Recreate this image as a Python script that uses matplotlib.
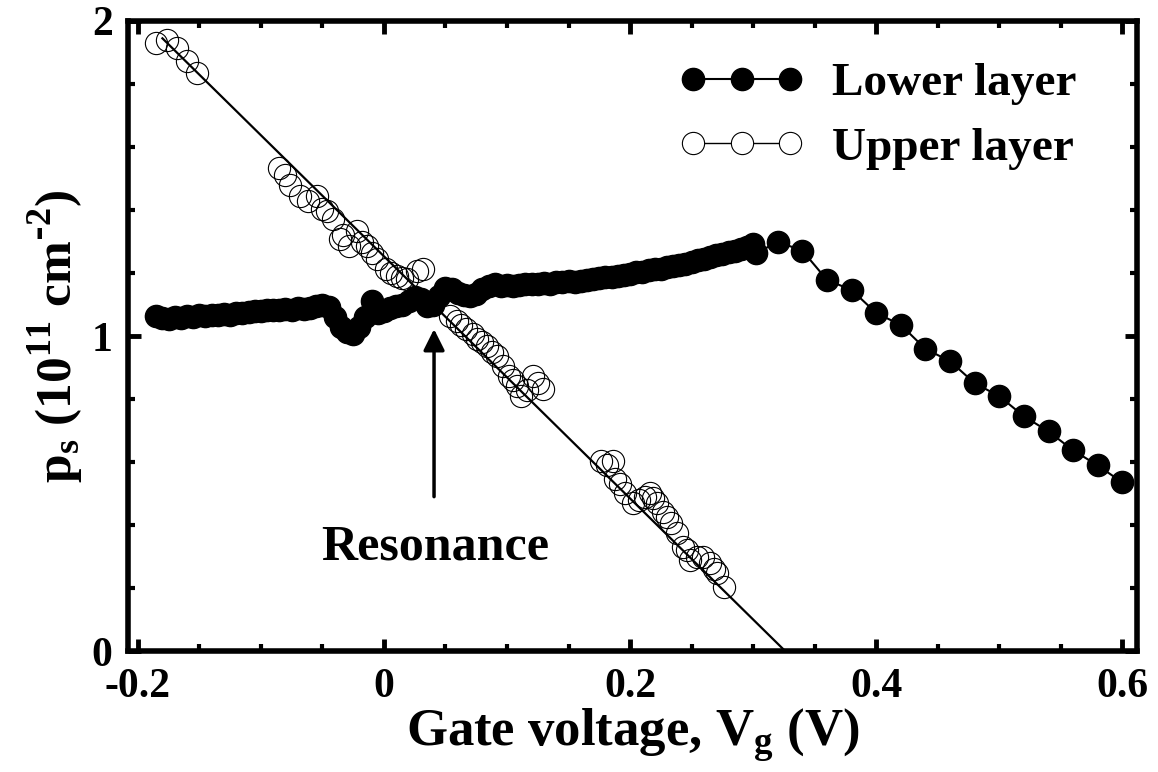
import numpy as np
import matplotlib
matplotlib.use('Agg')
import matplotlib.pyplot as plt
from matplotlib.lines import Line2D
from matplotlib.ticker import MultipleLocator, FuncFormatter

# lower layer, dense sweep (V, 1e11 cm^-2)
lower_x = [-0.185, -0.180, -0.175, -0.170, -0.165, -0.160, -0.155, -0.150, -0.145, -0.140,
           -0.135, -0.130, -0.125, -0.120, -0.115, -0.110, -0.105, -0.100, -0.095, -0.090,
           -0.085, -0.080, -0.075, -0.070, -0.065, -0.060, -0.055, -0.050, -0.045, -0.040,
           -0.035, -0.030, -0.025, -0.020, -0.015, -0.010, -0.005, 0.000, 0.005, 0.010,
           0.015, 0.020, 0.025, 0.030, 0.035, 0.040, 0.045, 0.050, 0.055, 0.060,
           0.065, 0.070, 0.075, 0.080, 0.085, 0.090, 0.095, 0.100, 0.105, 0.110,
           0.115, 0.120, 0.125, 0.130, 0.135, 0.140, 0.145, 0.150, 0.155, 0.160,
           0.165, 0.170, 0.175, 0.180, 0.185, 0.190, 0.195, 0.200, 0.205, 0.210,
           0.215, 0.220, 0.225, 0.230, 0.235, 0.240, 0.245, 0.250, 0.255, 0.260,
           0.265, 0.270, 0.275, 0.280, 0.285, 0.290, 0.295, 0.300, 0.302,
           # sparse tail
           0.32, 0.34, 0.36, 0.38, 0.40, 0.42, 0.44, 0.46, 0.48, 0.50,
           0.52, 0.54, 0.56, 0.58, 0.60]
lower_y = [1.064, 1.058, 1.055, 1.060, 1.058, 1.062, 1.060, 1.066, 1.064, 1.068,
           1.066, 1.070, 1.068, 1.072, 1.074, 1.076, 1.078, 1.080, 1.082, 1.084,
           1.082, 1.086, 1.084, 1.088, 1.086, 1.090, 1.094, 1.098, 1.092, 1.060,
           1.030, 1.012, 1.005, 1.030, 1.060, 1.112, 1.072, 1.080, 1.088, 1.094,
           1.100, 1.112, 1.124, 1.118, 1.094, 1.100, 1.128, 1.152, 1.148, 1.138,
           1.130, 1.128, 1.134, 1.150, 1.160, 1.164, 1.160, 1.162, 1.160, 1.162,
           1.164, 1.166, 1.164, 1.168, 1.166, 1.170, 1.172, 1.174, 1.172, 1.176,
           1.178, 1.180, 1.184, 1.186, 1.188, 1.192, 1.194, 1.198, 1.202, 1.204,
           1.208, 1.212, 1.214, 1.218, 1.222, 1.226, 1.230, 1.234, 1.240, 1.244,
           1.250, 1.256, 1.260, 1.266, 1.270, 1.276, 1.282, 1.292, 1.262,
           1.299, 1.271, 1.178, 1.146, 1.073, 1.035, 0.959, 0.920, 0.850, 0.809,
           0.745, 0.697, 0.637, 0.589, 0.535]

# upper layer, open circles
upper_x = [-0.185, -0.176, -0.168, -0.160, -0.152,
           -0.085, -0.080, -0.076, -0.068, -0.062, -0.054, -0.050, -0.046, -0.041, -0.036,
           -0.033, -0.028, -0.022, -0.018, -0.014, -0.010, -0.006, 0.002, 0.006, 0.011,
           0.015, 0.019, 0.027, 0.032,
           0.054, 0.059, 0.063, 0.067, 0.072, 0.076, 0.080, 0.084, 0.088, 0.092,
           0.097, 0.102, 0.105, 0.108, 0.111, 0.116, 0.121, 0.125, 0.129,
           0.176, 0.181, 0.186, 0.188, 0.192, 0.196, 0.202, 0.207, 0.212, 0.216,
           0.219, 0.222, 0.227, 0.230, 0.233, 0.238, 0.243, 0.246, 0.249, 0.254,
           0.259, 0.265, 0.268, 0.271, 0.276]
upper_y = [1.930, 1.940, 1.914, 1.873, 1.834,
           1.532, 1.510, 1.478, 1.446, 1.430, 1.446, 1.404, 1.398, 1.373, 1.309,
           1.320, 1.287, 1.334, 1.300, 1.287, 1.265, 1.245, 1.213, 1.200, 1.191,
           1.185, 1.180, 1.207, 1.213,
           1.064, 1.048, 1.035, 1.022, 1.005, 0.990, 0.980, 0.968, 0.950, 0.936,
           0.904, 0.873, 0.860, 0.841, 0.809, 0.830, 0.873, 0.850, 0.831,
           0.602, 0.590, 0.602, 0.545, 0.530, 0.503, 0.471, 0.480, 0.490, 0.503,
           0.485, 0.471, 0.440, 0.425, 0.408, 0.376, 0.331, 0.320, 0.290, 0.300,
           0.299, 0.280, 0.260, 0.248, 0.204]

# linear fit through upper layer
fit_x = [-0.18, 0.326]
fit_y = [1.945, 0.0]

plt.rcParams['font.family'] = ['Liberation Serif', 'DejaVu Serif']
plt.rcParams['font.weight'] = 'bold'
plt.rcParams['axes.unicode_minus'] = False

fig = plt.figure(figsize=(11.58, 7.72), dpi=100)
ax = fig.add_axes([0.1105, 0.1567, 0.8715, 0.8161])

ax.plot(lower_x, lower_y, color='black', lw=1.5, marker='o', ms=16,
        mfc='black', mec='black', zorder=3)
ax.plot(upper_x, upper_y, ls='none', marker='o', ms=16, mfc='none',
        mec='black', mew=0.8, zorder=2)
ax.plot(fit_x, fit_y, color='black', lw=1.6, zorder=4)

ax.annotate('', xy=(0.0407, 1.022), xytext=(0.0407, 0.49),
            arrowprops=dict(arrowstyle='-|>', color='black', lw=2.5,
                            mutation_scale=32, shrinkA=0, shrinkB=0))
ax.text(0.042, 0.33, 'Resonance', fontsize=36, fontweight='bold',
        ha='center', va='center')

ax.set_xlim(-0.208, 0.612)
ax.set_ylim(0, 2)
ax.xaxis.set_major_locator(MultipleLocator(0.2))
ax.xaxis.set_minor_locator(MultipleLocator(0.05))
ax.yaxis.set_major_locator(MultipleLocator(1))
ax.yaxis.set_minor_locator(MultipleLocator(0.2))
ax.xaxis.set_major_formatter(FuncFormatter(lambda v, p: '0' if abs(v) < 1e-9 else f'{v:.1f}'))
ax.yaxis.set_major_formatter(FuncFormatter(lambda v, p: f'{v:.0f}'))

for s in ax.spines.values():
    s.set_linewidth(4)
ax.tick_params(which='both', direction='in', top=True, right=True)
ax.tick_params(which='major', length=9, width=3.5, labelsize=30)
ax.tick_params(axis='x', which='major', pad=12)
ax.tick_params(axis='y', which='major', pad=11)
ax.tick_params(which='minor', length=5, width=3)

ax.set_xlabel(r'Gate voltage, V$_\mathregular{g}$ (V)', fontsize=38, fontweight='bold', labelpad=1)
ax.set_ylabel(r'p$_\mathregular{s}$ (10$^\mathregular{11}$ cm$^\mathregular{\text{-}2}$)', fontsize=37,
              fontweight='bold', labelpad=4)

handles = [Line2D([], [], color='black', lw=1.5, marker='o', ms=16, mfc='black', mec='black'),
           Line2D([], [], color='black', lw=1.0, marker='o', ms=16, mfc='white', mec='black', mew=0.8)]
ax.legend(handles, ['Lower layer', 'Upper layer'], loc='center left',
          bbox_to_anchor=(679 / 1158, 1 - 116 / 772), bbox_transform=fig.transFigure,
          numpoints=3, frameon=False, handlelength=2.65, handletextpad=0.6,
          labelspacing=0.45, borderpad=0, borderaxespad=0,
          prop={'weight': 'bold', 'size': 34})

fig.savefig('out.png', dpi=100)
